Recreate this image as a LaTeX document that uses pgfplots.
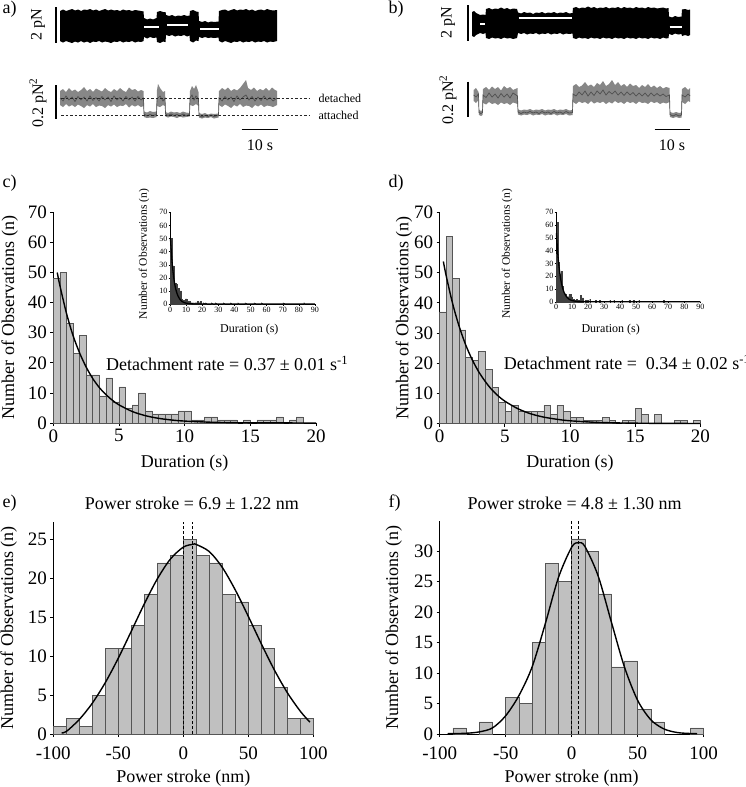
\documentclass[border=0pt]{standalone}
\usepackage{fontspec}
\setmainfont{Liberation Serif}
\usepackage{pgfplots}
\usepackage{pgfplotstable}
\usepgfplotslibrary{fillbetween}
\pgfplotsset{compat=1.18}
\newcommand\fs[1]{\fontsize{#1}{#1}\selectfont}
\definecolor{barfill}{RGB}{192,192,192}
\definecolor{baredge}{RGB}{85,85,85}
\definecolor{insetbar}{RGB}{70,70,70}
\definecolor{trace}{RGB}{135,135,135}
\definecolor{tracecore}{RGB}{80,80,80}

\pgfplotsset{
  hist/.style={scale only axis, axis lines*=left, tick align=outside,
    major tick length=3pt, axis line style={line width=0.8pt},
    tick style={black, line width=0.8pt},
    ticklabel style={font=\fs{19}}, label style={font=\fs{18}},
    /pgf/number format/assume math mode=true, clip=false},
  inset/.style={scale only axis, axis lines*=left, tick align=outside,
    major tick length=1.5pt, axis line style={line width=0.5pt},
    tick style={black, line width=0.4pt},
    ticklabel style={font=\fs{8}, inner sep=1pt},
    /pgf/number format/assume math mode=true,
    xmin=0, xmax=90, ymin=0, ymax=70,
    xtick={0,10,...,90}, ytick={0,10,...,70}, clip=false},
  bars/.style={ybar, bar shift=0pt, fill=barfill, draw=baredge, line width=0.6pt},
  ibars/.style={ybar, bar shift=0pt, bar width=0.5, fill=insetbar, draw=black!75, line width=0.1pt},
  fit/.style={black, line width=1.4pt, smooth},
}

% duration histograms, 0.5 s bins (bin centres)
\pgfplotstableread{
x y
0.25 48
0.75 50
1.25 33
1.75 23
2.25 29
2.75 16
3.25 16
3.75 9
4.25 15
4.75 7
5.25 12
5.75 5
6.25 6
6.75 10
7.25 4
7.75 3
8.25 3
8.75 3
9.25 3
9.75 4
10.25 4
10.75 1
11.25 1
11.75 2
12.25 2
12.75 1
13.25 1
13.75 1
14.75 1
15.75 1
16.25 1
16.75 1
17.25 2
18.25 1
18.75 2
}\cdur

\pgfplotstableread{
x y
0.25 37
0.75 62
1.25 48
1.75 31
2.25 22
2.75 21
3.25 24
3.75 18
4.25 12
4.75 7
5.25 4
5.75 6
6.25 4
6.75 4
7.25 4
7.75 4
8.25 6
8.75 3
9.25 6
9.75 4
10.25 2
10.75 2
11.25 1
11.75 1
12.25 1
12.75 2
13.25 1
14.25 1
14.75 1
15.25 5
15.75 3
16.75 3
18.25 1
18.75 1
19.75 1
}\ddur

% power stroke histograms, 10 nm bins
\pgfplotstableread{
x y
-95 1
-85 2
-75 1
-65 5
-55 11
-45 11
-35 14
-25 18
-15 22
-5 23
5 25
15 23
25 22
35 18
45 17
55 14
65 11
75 6
85 2
95 2
}\estroke

\pgfplotstableread{
x y
-85 1
-65 2
-45 6
-35 5
-25 15
-15 28
-5 25
5 32
15 30
25 23
35 11
45 12
55 4
65 2
95 1
}\fstroke

\begin{document}
\begin{tikzpicture}

% ---- panels a and b: traces, page coordinates ----
\begin{axis}[at={(0pt,0pt)}, anchor=north west, scale only axis,
  width=745pt, height=787pt, xmin=0, xmax=745, ymin=0, ymax=787,
  y dir=reverse, hide axis, clip=false]

% a, force trace
\addplot[draw=none, name path=aT] coordinates {
(60,11) (63,9.5) (66,11) (69,10) (72,9) (75,10.5) (78,9.5) (81,11) (84,9.5) (87,10)
(90,9) (93,10.5) (96,9.5) (99,11) (102,10) (105,9) (108,10.5) (111,9.5) (114,10.5) (117,10)
(120,11) (123,9.5) (126,10.5) (129,10) (132,11) (135,10) (138,10.5) (141,11) (143.5,11.5)
(144,18) (147,19.5) (150,18.5) (153,19.5) (156.5,18) (157,12) (160,11) (163,12) (165.5,12)
(166,15) (169,16) (172,15) (175,16.5) (178,15.5) (181,16) (184,15) (187,16) (189.5,15.5)
(190,11) (193,10) (196,11.5) (198.5,12) (199,21) (202,22) (205,21) (208,22.5) (211,21.5)
(214,22) (218.5,21.5) (219,11) (222,10) (225,9.5) (228,11) (231,10) (234,9) (237,10.5)
(240,9.5) (243,10) (246,9) (249,10.5) (252,9.5) (255,11) (258,10) (261,9.5) (264,10.5)
(267,9) (270,10) (273,10.5) (277,10)};
\addplot[draw=none, name path=aB] coordinates {
(60,41) (63,42.5) (66,41) (69,42) (72,43) (75,41.5) (78,42.5) (81,41) (84,42.5) (87,41.5)
(90,43) (93,41.5) (96,42) (99,41) (102,42.5) (105,41.5) (108,42) (111,43) (114,41.5) (117,42)
(120,41) (123,42.5) (126,41.5) (129,42) (132,41) (135,42.5) (138,41.5) (141,42) (143.5,41)
(144,37) (147,38.5) (150,37) (153,38) (156.5,37.5) (157,42) (160,43) (163,41.5) (165.5,42)
(166,35) (169,36) (172,35) (175,36.5) (178,35.5) (181,36) (184,35) (187,36.5) (189.5,35.5)
(190,41) (193,42.5) (196,40.5) (198.5,41) (199,37) (202,38) (205,37) (208,38) (211,37.5)
(214,38) (218.5,37.5) (219,41) (222,42.5) (225,41) (228,42) (231,43) (234,41.5) (237,42)
(240,41) (243,42.5) (246,41.5) (249,42) (252,41) (255,42.5) (258,41.5) (261,42) (264,41)
(267,42.5) (270,41.5) (273,42) (277,41)};
\addplot[black] fill between[of=aT and aB];
\addplot[white, line width=2pt] coordinates {(144,27.3) (159,27.3)};
\addplot[white, line width=2pt] coordinates {(167,25) (188,25)};
\addplot[white, line width=2pt] coordinates {(200,29.3) (219,29.3)};

% a, variance trace
\addplot[draw=none, name path=aLT] coordinates {
(60,91) (63,89) (66,92) (69,88) (72,91) (75,89.5) (78,92) (81,90) (84,87) (87,91)
(90,89) (93,92) (96,88.5) (99,90) (102,91.5) (105,88) (108,90.5) (111,92) (114,89) (117,91)
(120,88) (123,90.5) (126,92) (129,87.5) (132,90) (135,89) (138,91.5) (141,90) (143.5,91)
(144,111.5) (147,112.5) (150,111) (153,112) (156.5,111.5) (157,90) (158,84) (160,88) (163,92)
(165,91) (165.5,112) (168,113) (171,111.5) (174,112.5) (177,112) (180,113) (183,111.5)
(186,112.5) (189.5,113) (190,91) (192,86) (194,89) (196,85) (198.5,92) (199,113) (202,114)
(205,113) (208,114.5) (211,113.5) (214,114) (218.5,113.5) (219,91) (222,88) (225,90)
(228,87.5) (231,91) (234,89) (237,90.5) (240,88) (243,84) (246,80) (248,88) (251,90)
(254,87.5) (257,91) (260,89) (263,90.5) (266,88) (269,91) (272,87.5) (275,90) (277,91)};
\addplot[draw=none, name path=aLB] coordinates {
(60,105) (63,107) (66,104) (69,106.5) (72,105) (75,107) (78,104.5) (81,106) (84,108) (87,105)
(90,106.5) (93,104) (96,107) (99,105.5) (102,106) (105,108) (108,105) (111,106.5) (114,104.5)
(117,107) (120,105.5) (123,106) (126,104) (129,107.5) (132,105) (135,106.5) (138,105) (141,107)
(143.5,106) (144,117) (147,118) (150,117.5) (153,118) (156.5,117) (157,106) (160,107) (163,105)
(165,106) (165.5,116.5) (168,117.5) (171,116.5) (174,117) (177,118) (180,116.5) (183,117.5)
(186,117) (189.5,116.5) (190,105) (193,106) (196,104) (198.5,106) (199,117.5) (202,118.5)
(205,117.5) (208,118) (211,117) (214,118.5) (218.5,117.5) (219,105) (222,107) (225,104.5)
(228,106) (231,108) (234,105) (237,106.5) (240,104) (243,107) (246,105.5) (249,106) (252,108)
(255,105) (258,106.5) (261,104.5) (264,107) (267,105.5) (270,106) (273,107) (277,105)};
\addplot[trace] fill between[of=aLT and aLB];
\addplot[tracecore, line width=0.7pt] coordinates {
(60,98) (63,101) (66,96) (69,100) (72,97) (75,101.5) (78,96.5) (81,100) (84,97) (87,101)
(90,96) (93,100.5) (96,97.5) (99,101) (102,96.5) (105,100) (108,97) (111,101.5) (114,96)
(117,100) (120,97.5) (123,101) (126,96.5) (129,100) (132,97) (135,101) (138,96.5) (141,100)
(143.5,98) (144,114) (147,116) (150,114.5) (153,115.5) (156.5,114.5) (157,99) (160,96)
(163,101) (165,98) (165.5,114) (168,115.5) (171,114) (174,115.5) (177,114.5) (180,116)
(183,114) (186,115.5) (189.5,114.5) (190,98) (192,95) (194,100) (196,96) (198.5,99)
(199,115.5) (202,117) (205,115.5) (208,116.5) (211,115) (214,116.5) (218.5,115.5) (219,98)
(222,101) (225,96.5) (228,100) (231,97) (234,101.5) (237,96) (240,100) (243,97) (246,95)
(249,100) (252,96.5) (255,101) (258,97) (261,100.5) (264,96) (267,100) (270,97.5) (273,101)
(277,98)};
\addplot[black!85, line width=0.6pt, dash pattern=on 2.5pt off 2pt] coordinates {(61,98.7) (310,98.7)};
\addplot[black!85, line width=0.6pt, dash pattern=on 2.5pt off 2pt] coordinates {(61,115.7) (310,115.7)};
\node[anchor=west, font=\fs{12}] at (axis cs:315,98.7) {detached};
\node[anchor=west, font=\fs{12}] at (axis cs:315,115.7) {attached};

% a, scale bars
\addplot[black, line width=1.3pt] coordinates {(56,7) (56,43)};
\addplot[black, line width=1.3pt] coordinates {(56,85) (56,119)};
\addplot[black, line width=1.3pt] coordinates {(241.7,129.3) (278.3,129.3)};
\node[rotate=90, font=\fs{16}] at (axis cs:38,25) {2 pN};
\node[rotate=90, font=\fs{16}] at (axis cs:38,103) {0.2 pN\textsuperscript{2}};
\node[font=\fs{16}] at (axis cs:260,145) {10 s};

% b, force trace
\addplot[draw=none, name path=bT] coordinates {
(472,12) (474,11) (476,13) (478,14) (480,15) (483,14.5) (485.5,15) (486,9) (489,8) (492,9.5)
(495,8.5) (498,9) (501,7.5) (504,9) (507,8) (510,9.5) (513,8.5) (517,9) (518,12.5) (521,13.5)
(524,12) (527,13) (530,12.5) (533,14) (536,12.5) (539,13) (542,12) (545,13.5) (548,12.5)
(551,13) (554,12) (557,13.5) (560,12.5) (563,13) (566,12) (569,13.5) (572.5,13) (573,8)
(576,7) (579,8.5) (582,7.5) (585,8) (588,6.5) (591,8) (594,7) (597,8.5) (600,7.5) (603,8)
(606,7) (609,8.5) (612,7.5) (615,8) (618,7) (621,8.5) (624,7) (627,8) (630,7.5) (633,8.5)
(636,7) (639,8) (642,7.5) (645,8.5) (648,7) (651,8) (654,7.5) (657,8.5) (660,8) (663,7.5)
(666,8.5) (668.5,8) (669,16.5) (672,17.5) (675,16) (678,17) (681.5,16.5) (682,9.5) (685,9)
(688,10) (690,9.5)};
\addplot[draw=none, name path=bB] coordinates {
(472,36) (474,37) (476,35) (478,34) (480,33) (483,34) (485.5,33) (486,38) (489,39) (492,37.5)
(495,38.5) (498,38) (501,39) (504,37.5) (507,38.5) (510,38) (513,39) (517,38) (518,33) (521,34)
(524,33) (527,34.5) (530,33.5) (533,34) (536,33) (539,34.5) (542,33.5) (545,34) (548,33)
(551,34.5) (554,33.5) (557,34) (560,33) (563,34.5) (566,33.5) (569,34) (572.5,33.5) (573,38)
(576,39) (579,37.5) (582,38.5) (585,38) (588,39) (591,37.5) (594,38.5) (597,38) (600,39)
(603,37.5) (606,38.5) (609,38) (612,39) (615,37.5) (618,38.5) (621,38) (624,39) (627,37.5)
(630,38.5) (633,38) (636,39) (639,37.5) (642,38.5) (645,38) (648,39) (651,37.5) (654,38.5)
(657,38) (660,39) (663,37.5) (666,38.5) (668.5,38) (669,34) (672,35) (675,33.5) (678,34.5)
(681.5,34) (682,36) (685,35) (688,36) (690,35)};
\addplot[black] fill between[of=bT and bB];
\addplot[white, line width=2pt] coordinates {(480.3,24) (485.3,24)};
\addplot[white, line width=2pt] coordinates {(518.7,18.3) (572,18.3)};
\addplot[white, line width=2pt] coordinates {(669.7,27.3) (682,27.3)};

% b, variance trace
\addplot[draw=none, name path=bLT] coordinates {
(473.7,90) (476,88) (478.5,92) (479,110) (481,111) (482.5,110) (483,89) (486,87) (489,90)
(492,86.5) (495,89) (498,87) (501,90.5) (504,86) (507,88.5) (510,87) (513,90) (517.5,88)
(518,109.5) (521,110.5) (524,109.5) (527,110) (530,109) (533,110.5) (536,109.5) (539,110)
(542,109) (545,110.5) (548,109.5) (551,110) (554,109) (557,110.5) (560,109.5) (563,110)
(566,109) (569,110.5) (572.5,110) (573,86) (576,84) (579,87) (582,85.5) (585,82) (588,86)
(591,84.5) (594,87) (597,83) (600,85) (603,81) (606,86) (609,84) (612,80) (615,85) (618,82)
(621,86) (624,84) (627,87) (630,83.5) (633,86) (636,85) (639,88) (642,85) (645,87) (648,84)
(651,87.5) (654,85.5) (657,88) (660,86) (663,88.5) (666,87) (669.5,88) (670,112) (673,113)
(676,112) (679,113) (681.5,112.5) (682,89) (685,87) (688,90) (690,88)};
\addplot[draw=none, name path=bLB] coordinates {
(473.7,101) (476,103) (478.5,100) (479,115) (481,116) (482.5,115) (483,103) (486,104.5)
(489,102) (492,104) (495,103) (498,105) (501,102.5) (504,104) (507,103) (510,105) (513,102.5)
(517.5,104) (518,114.5) (521,115.5) (524,114.5) (527,115) (530,114) (533,115.5) (536,114.5)
(539,115) (542,114) (545,115.5) (548,114.5) (551,115) (554,114) (557,115.5) (560,114.5)
(563,115) (566,114) (569,115.5) (572.5,115) (573,102) (576,104) (579,101.5) (582,103)
(585,102) (588,104) (591,101) (594,103.5) (597,102) (600,103) (603,101.5) (606,104) (609,102)
(612,103.5) (615,101) (618,103) (621,102) (624,104) (627,101.5) (630,103) (633,102) (636,104)
(639,101.5) (642,103) (645,102.5) (648,104) (651,101.5) (654,103) (657,102) (660,104)
(663,102.5) (666,103.5) (669.5,102) (670,117) (673,118) (676,117) (679,118) (681.5,117.5)
(682,102) (685,104) (688,101) (690,102)};
\addplot[trace] fill between[of=bLT and bLB];
\addplot[tracecore, line width=0.7pt] coordinates {
(473.7,95) (476,97) (478.5,94) (479,112.5) (481,113.5) (482.5,112.5) (483,95) (486,97.5)
(489,93) (492,97) (495,94) (498,98) (501,93.5) (504,97) (507,94) (510,98) (513,93) (517.5,96)
(518,112) (521,113.5) (524,112) (527,113) (530,111.5) (533,113) (536,112) (539,113.5)
(542,111.5) (545,113) (548,112) (551,113.5) (554,111.5) (557,113) (560,112) (563,113.5)
(566,111.5) (569,113) (572.5,112.5) (573,94) (576,96) (579,92) (582,95) (585,91) (588,96)
(591,92) (594,95.5) (597,91) (600,94) (603,90) (606,95) (609,91.5) (612,94) (615,91) (618,95)
(621,92) (624,95.5) (627,92) (630,95) (633,92.5) (636,96) (639,93) (642,96) (645,93)
(648,96.5) (651,93) (654,96) (657,93.5) (660,96) (663,94) (666,96.5) (669.5,95) (670,114.5)
(673,116) (676,114.5) (679,116) (681.5,115) (682,95) (685,97) (688,94) (690,96)};

% b, scale bars
\addplot[black, line width=1.3pt] coordinates {(468,5) (468,40.7)};
\addplot[black, line width=1.3pt] coordinates {(468,81.7) (468,117.3)};
\addplot[black, line width=1.3pt] coordinates {(654.7,129.3) (690.3,129.3)};
\node[rotate=90, font=\fs{16}] at (axis cs:448,22.5) {2 pN};
\node[rotate=90, font=\fs{16}] at (axis cs:448,100) {0.2 pN\textsuperscript{2}};
\node[font=\fs{16}] at (axis cs:672,145) {10 s};

% panel letters
\node[anchor=west, font=\fs{18}] at (axis cs:-1,9) {a)};
\node[anchor=west, font=\fs{18}] at (axis cs:385,9) {b)};
\node[anchor=west, font=\fs{18}] at (axis cs:-1,183) {c)};
\node[anchor=west, font=\fs{18}] at (axis cs:385,183) {d)};
\node[anchor=west, font=\fs{18}] at (axis cs:-1,503) {e)};
\node[anchor=west, font=\fs{18}] at (axis cs:385,503) {f)};
\end{axis}

% ---- c ----
\begin{axis}[hist, at={(53.3pt,-423pt)}, anchor=south west,
  width=262.7pt, height=210.7pt,
  xmin=0, xmax=20, ymin=0, ymax=70,
  xtick={0,5,...,20}, ytick={0,10,...,70},
  xlabel={Duration (s)}, ylabel={Number of Observations (n)},
  xlabel style={at={(axis description cs:0.5,-0.19)}, anchor=center},
  ylabel style={at={(axis description cs:-0.166,0.5)}, anchor=center}]
\addplot[bars, bar width=0.5] table[x=x, y=y] {\cdur};
\addplot[fit] coordinates {
(0.3,50) (0.5,45.7) (1,36.5) (1.5,29.1) (2,23.3) (2.5,18.6) (3,14.8) (3.5,11.8)
(4,9.46) (4.5,7.55) (5,6.03) (6,3.84) (7,2.45) (8,1.56) (9,1.0) (10,0.64)
(12,0.26) (14,0.1) (16,0.04) (18,0.02) (20,0.01)};
\node[anchor=west, font=\fs{18}] at (axis cs:3.76,19.8)
  {Detachment rate = 0.37 ± 0.01 s\textsuperscript{-1}};
\end{axis}

\begin{axis}[inset, at={(170pt,-304pt)}, anchor=south west,
  width=145pt, height=91.7pt,
  xlabel={Duration (s)}, ylabel={Number of Observations (n)},
  xlabel style={font=\fs{12}, at={(axis description cs:0.547,-0.276)}, anchor=center},
  ylabel style={font=\fs{11.5}, at={(axis description cs:-0.179,0.545)}, anchor=center}]
\addplot[ibars] table[x=x, y=y] {\cdur};
\addplot[ibars] coordinates {(20.75,1) (22.25,1) (25.75,1) (28.25,1) (33.25,1) (37.75,1)
  (42.25,1) (46.75,1) (52.25,1) (56.75,1) (70.25,1) (83.25,1)};
\addplot[fit, line width=1.3pt] coordinates {
(0.3,50) (0.5,45.7) (1,36.5) (1.5,29.1) (2,23.3) (2.5,18.6) (3,14.8) (3.5,11.8)
(4,9.46) (4.5,7.55) (5,6.03) (6,3.84) (7,2.45) (8,1.56) (9,1.0) (10,0.64)
(12,0.26) (14,0.1) (20,0) (90,0)};
\end{axis}

% ---- d ----
\begin{axis}[hist, at={(439.7pt,-423.5pt)}, anchor=south west,
  width=260.6pt, height=211.2pt,
  xmin=0, xmax=20, ymin=0, ymax=70,
  xtick={0,5,...,20}, ytick={0,10,...,70},
  xlabel={Duration (s)}, ylabel={Number of Observations (n)},
  xlabel style={at={(axis description cs:0.5,-0.19)}, anchor=center},
  ylabel style={at={(axis description cs:-0.137,0.5)}, anchor=center}]
\addplot[bars, bar width=0.5] table[x=x, y=y] {\ddur};
\addplot[fit] coordinates {
(0.28,53.7) (0.5,48.9) (1,39.6) (1.5,32.1) (2,26.0) (2.5,21.1) (3,17.1) (3.5,13.9)
(4,11.2) (4.5,9.1) (5,7.4) (6,4.9) (7,3.2) (8,2.1) (9,1.4) (10,0.9)
(12,0.39) (14,0.17) (16,0.07) (18,0.03) (20,0.01)};
\node[anchor=west, font=\fs{18}] at (axis cs:4.65,20.2)
  {Detachment rate =\ \ 0.34 ± 0.02 s\textsuperscript{-1}};
\end{axis}

\begin{axis}[inset, at={(556pt,-301.7pt)}, anchor=south west,
  width=144.3pt, height=89.4pt,
  xlabel={Duration (s)}, ylabel={Number of Observations (n)},
  xlabel style={font=\fs{12}, at={(axis description cs:0.379,-0.309)}, anchor=center},
  ylabel style={font=\fs{11.5}, at={(axis description cs:-0.34,0.534)}, anchor=center}]
\addplot[ibars] table[x=x, y=y] {\ddur};
\addplot[ibars] coordinates {(21.25,2) (24.75,1) (27.25,1) (33.75,1) (36.25,1) (41.25,1)
  (45.75,1) (48.25,1) (51.75,1) (67.25,1)};
\addplot[fit, line width=1.3pt] coordinates {
(0.28,53.7) (0.5,48.9) (1,39.6) (1.5,32.1) (2,26.0) (2.5,21.1) (3,17.1) (3.5,13.9)
(4,11.2) (4.5,9.1) (5,7.4) (6,4.9) (7,3.2) (8,2.1) (9,1.4) (10,0.9)
(12,0.39) (14,0.17) (20,0) (90,0)};
\end{axis}

% ---- e ----
\begin{axis}[hist, at={(53.3pt,-734pt)}, anchor=south west,
  width=260pt, height=212.3pt,
  xmin=-100, xmax=100, ymin=0, ymax=27.3,
  xtick={-100,-50,0,50,100}, xticklabels={-100,-50,0,50,100},
  xticklabel style={yshift=-6pt},
  ytick={0,5,...,25},
  xlabel={Power stroke (nm)}, ylabel={Number of Observations (n)},
  xlabel style={at={(axis description cs:0.5,-0.209)}, anchor=center},
  ylabel style={at={(axis description cs:-0.172,0.5)}, anchor=center},
  title={Power stroke = 6.9 ± 1.22 nm},
  title style={font=\fs{18}, at={(axis description cs:0.533,1.06)}, anchor=center}]
\addplot[bars, bar width=10] table[x=x, y=y] {\estroke};
\addplot[fit] coordinates {
(-93.6,0.15) (-90,0.32) (-80,1.87) (-70,3.96) (-60,6.61) (-50,9.75) (-40,13.22)
(-30,16.73) (-20,19.94) (-10,22.48) (0,24.03) (7.7,24.4) (10,24.37) (20,23.46)
(30,21.42) (40,18.52) (50,15.13) (60,11.6) (70,8.25) (80,5.32) (90,2.93) (97.4,1.52)};
\addplot[black, line width=1pt, dash pattern=on 3pt off 2pt] coordinates {(0,0) (0,27.3)};
\addplot[black, line width=1pt, dash pattern=on 3pt off 2pt] coordinates {(6.9,0) (6.9,27.3)};
\end{axis}

% ---- f ----
\begin{axis}[hist, at={(439.7pt,-734pt)}, anchor=south west,
  width=264pt, height=213.3pt,
  xmin=-100, xmax=100, ymin=0, ymax=35,
  xtick={-100,-50,0,50,100}, xticklabels={-100,-50,0,50,100},
  xticklabel style={yshift=-6pt},
  ytick={0,5,...,30},
  xlabel={Power stroke (nm)}, ylabel={Number of Observations (n)},
  xlabel style={at={(axis description cs:0.5,-0.208)}, anchor=center},
  ylabel style={at={(axis description cs:-0.174,0.5)}, anchor=center},
  title={Power stroke = 4.8 ± 1.30 nm},
  title style={font=\fs{18}, at={(axis description cs:0.511,1.055)}, anchor=center}]
\addplot[bars, bar width=10] table[x=x, y=y] {\fstroke};
\addplot[fit] coordinates {
(-94,0.05) (-90,0.07) (-80,0.12) (-70,0.35) (-60,1.0) (-50,3.0) (-40,6.3) (-30,11.0)
(-20,18.1) (-10,25.7) (0,30.67) (5.2,31.4) (10,30.78) (20,25.96) (30,18.41) (40,10.97)
(50,5.5) (60,2.32) (70,0.82) (80,0.24) (90,0.08) (95,0.05)};
\addplot[black, line width=1pt, dash pattern=on 3pt off 2pt] coordinates {(0,0) (0,35)};
\addplot[black, line width=1pt, dash pattern=on 3pt off 2pt] coordinates {(4.8,0) (4.8,35)};
\end{axis}

\pgfresetboundingbox
\useasboundingbox (0pt,0pt) rectangle (745pt,-787pt);
\end{tikzpicture}
\end{document}
